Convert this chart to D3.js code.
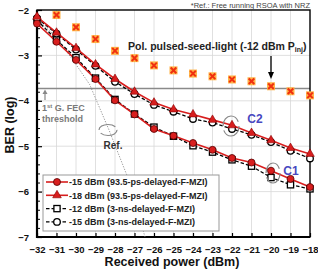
<!DOCTYPE html>
<html><head><meta charset="utf-8">
<script src="https://cdn.jsdelivr.net/npm/d3@7"></script>
<style>body{margin:0;background:#fff}svg{display:block}text{font-family:"Liberation Sans",Arial,sans-serif}</style>
</head><body><svg id="c" width="318" height="270"></svg>
<script>
const xs = [-32,-31,-30,-29,-28,-27,-26,-25,-24,-23,-22,-21,-20,-19,-18];
const xTicks = [-32,-31,-30,-29,-28,-27,-26,-25,-24,-23,-22,-21,-20,-19,-18];
const yTicks = [-7,-6,-5,-4,-3,-2];
const s15fast = [-2.3,-2.7,-3.1,-3.52,-3.99,-4.3,-4.62,-4.77,-4.93,-5.08,-5.26,-5.36,-5.54,-5.72,-5.9];
const s18fast = [-2.15,-2.5,-2.84,-3.2,-3.52,-3.8,-4.04,-4.19,-4.3,-4.42,-4.54,-4.71,-4.87,-5.04,-5.17];
const s12slow = [-2.22,-2.66,-3.05,-3.5,-3.97,-4.29,-4.58,-4.78,-4.99,-5.13,-5.3,-5.44,-5.69,-5.85,-5.94];
const s15slow = [-2.18,-2.52,-2.87,-3.23,-3.58,-3.85,-4.09,-4.24,-4.4,-4.48,-4.62,-4.75,-4.91,-5.1,-5.27];
const pulsedX = [-31,-30,-29,-28,-27,-26,-25,-24,-23,-22,-21,-20,-19,-18];
const pulsedY = [-2.11,-2.38,-2.64,-2.9,-3.06,-3.22,-3.33,-3.4,-3.46,-3.53,-3.57,-3.68,-3.79,-3.88];
const refX = [-32,-31,-30,-29.3,-28.3,-27.4,-26.46];
const refY = [-2.2,-2.6,-3.2,-3.64,-4.65,-5.63,-7];
const fec = -3.73;
const legendLabels = ["-15 dBm (93.5-ps-delayed-F-MZI)","-18 dBm (93.5-ps-delayed-F-MZI)","-12 dBm (3-ns-delayed-F-MZI)","-15 dBm (3-ns-delayed-F-MZI)"];

const svg = d3.select("#c");
const L=37,R=310,T=10,B=237;
const x = d3.scaleLinear().domain([-32,-18]).range([L,R]);
const y = d3.scaleLinear().domain([-7,-2]).range([B,T]);

// grid
svg.append("g").selectAll("line").data(xTicks.slice(1,-1)).join("line")
  .attr("x1",d=>x(d)).attr("x2",d=>x(d)).attr("y1",T).attr("y2",B)
  .attr("stroke","#d8d8d8").attr("stroke-width",0.8);
svg.append("g").selectAll("line").data(yTicks.slice(1,-1)).join("line")
  .attr("x1",L).attr("x2",R).attr("y1",d=>y(d)).attr("y2",d=>y(d))
  .attr("stroke","#d8d8d8").attr("stroke-width",0.8);

// FEC line
svg.append("line").attr("x1",L).attr("x2",R).attr("y1",y(fec)).attr("y2",y(fec))
  .attr("stroke","#8a8a8a").attr("stroke-width",1.5);

// axes
const xAxis = d3.axisBottom(x).tickValues(xTicks).tickSize(-4).tickFormat(d3.format("d"));
const gx = svg.append("g").attr("transform",`translate(0,${B})`).call(xAxis);
gx.select(".domain").remove();
gx.selectAll("line").attr("stroke","#000").attr("stroke-width",1.2);
gx.selectAll("text").attr("dy",null).attr("y",15.5).attr("font-size",9.5).attr("font-weight","bold").attr("fill","#111");

const yAxis = d3.axisLeft(y).tickValues(yTicks).tickSize(-5).tickFormat(d3.format("d"));
const gy = svg.append("g").attr("transform",`translate(${L},0)`).call(yAxis);
gy.select(".domain").remove();
gy.selectAll("line").attr("stroke","#000").attr("stroke-width",1.2);
gy.selectAll("text").attr("x",-8).attr("font-size",9.5).attr("font-weight","bold").attr("fill","#111");
const minor = d3.range(-7,-2,0.2).map(v=>+v.toFixed(1)).filter(v=>!Number.isInteger(v));
const yMinor = d3.axisLeft(y).tickValues(minor).tickSize(-3).tickFormat("");
const gm = svg.append("g").attr("transform",`translate(${L},0)`).call(yMinor);
gm.select(".domain").remove();
gm.selectAll("line").attr("stroke","#000").attr("stroke-width",1);

// frame
svg.append("rect").attr("x",L).attr("y",T).attr("width",R-L).attr("height",B-T)
  .attr("fill","none").attr("stroke","#000").attr("stroke-width",1.4);
svg.append("line").attr("x1",L).attr("x2",L).attr("y1",T).attr("y2",B+1).attr("stroke","#000").attr("stroke-width",2.2);
svg.append("line").attr("x1",L-1).attr("x2",R).attr("y1",B).attr("y2",B).attr("stroke","#000").attr("stroke-width",2.2);

// reference dotted line
const line = d3.line().x(d=>x(d[0])).y(d=>y(d[1]));
svg.append("path").attr("d",line(d3.zip(refX,refY))).attr("fill","none")
  .attr("stroke","#777").attr("stroke-width",0.8).attr("stroke-dasharray","1.2,1.5");

// pulsed-seed markers
const pg = svg.append("g");
d3.zip(pulsedX,pulsedY).forEach(([a,b])=>{
  const cx=x(a), cy=y(b);
  pg.append("rect").attr("x",cx-4).attr("y",cy-4).attr("width",8).attr("height",8).attr("fill","#ffb347");
  pg.append("path").attr("d",`M${cx-2.8},${cy-2.8}L${cx+2.8},${cy+2.8}M${cx+2.8},${cy-2.8}L${cx-2.8},${cy+2.8}`)
    .attr("stroke","#f03010").attr("stroke-width",2);
});

const RED="#d81e1e";
function drawSeries(vals, color, dash, width){
  svg.append("path").attr("d",line(d3.zip(xs,vals))).attr("fill","none")
    .attr("stroke",color).attr("stroke-width",width).attr("stroke-dasharray",dash||null);
}
function marker(g,type,cx,cy){
  if(type==="circle") g.append("circle").attr("cx",cx).attr("cy",cy).attr("r",3.5).attr("fill",RED).attr("stroke","#500").attr("stroke-width",0.8);
  else if(type==="tri") g.append("path").attr("d",d3.symbol(d3.symbolTriangle,32)()).attr("transform",`translate(${cx},${cy})`).attr("fill",RED).attr("stroke","#800").attr("stroke-width",0.6);
  else if(type==="square") g.append("rect").attr("x",cx-3.1).attr("y",cy-3.1).attr("width",6.2).attr("height",6.2).attr("fill","#fff").attr("stroke","#000").attr("stroke-width",1.3);
  else if(type==="ocircle") g.append("circle").attr("cx",cx).attr("cy",cy).attr("r",3.3).attr("fill","#fff").attr("stroke","#000").attr("stroke-width",1.3);
}
const series = [
  {vals:s12slow,color:"#000",dash:"3.5,2",w:1.3,m:"square"},
  {vals:s15slow,color:"#000",dash:"3.5,2",w:1.3,m:"ocircle"},
  {vals:s15fast,color:RED,dash:null,w:1.6,m:"circle"},
  {vals:s18fast,color:RED,dash:null,w:1.6,m:"tri"}
];
series.forEach(s=>drawSeries(s.vals,s.color,s.dash,s.w));
series.forEach(s=>{const g=svg.append("g"); xs.forEach((a,i)=>marker(g,s.m,x(a),y(s.vals[i])));});

// annotations
svg.append("text").attr("x",310).attr("y",8).attr("text-anchor","end").attr("font-size",7.5).attr("fill","#444")
  .text("*Ref.: Free running RSOA with NRZ");
const pt = svg.append("text").attr("x",128).attr("y",50).attr("font-size",10.5).attr("font-weight","bold").attr("fill","#222");
pt.append("tspan").text("Pol. pulsed-seed-light (-12 dBm P");
pt.append("tspan").attr("font-size",7).attr("dy",2).text("inj");
pt.append("tspan").attr("dy",-2).text(")");
// arrow down
svg.append("line").attr("x1",x(-20)).attr("x2",x(-20)).attr("y1",56).attr("y2",73).attr("stroke","#000").attr("stroke-width",1.3);
svg.append("path").attr("d",`M${x(-20)-3},72L${x(-20)+3},72L${x(-20)},79Z`).attr("fill","#000");
// FEC label
svg.append("line").attr("x1",45).attr("x2",45).attr("y1",100).attr("y2",93).attr("stroke","#888").attr("stroke-width",1.2);
svg.append("path").attr("d","M42.5,94L47.5,94L45,89.5Z").attr("fill","#888");
const ft = svg.append("text").attr("x",42).attr("y",111).attr("font-size",9).attr("font-weight","bold").attr("fill","#7a7a7a");
ft.append("tspan").text("1");
ft.append("tspan").attr("font-size",6).attr("dy",-3).text("st");
ft.append("tspan").attr("dy",3).text(" G. FEC");
svg.append("text").attr("x",42).attr("y",122).attr("font-size",9).attr("font-weight","bold").attr("fill","#7a7a7a").text("threshold");

// ovals
function oval(cx,cy,rx,ry){
  svg.append("ellipse").attr("cx",cx).attr("cy",cy).attr("rx",rx).attr("ry",ry)
    .attr("fill","none").attr("stroke","#888").attr("stroke-width",1.2).attr("stroke-dasharray",`${Math.PI*(rx+ry)*0.42},${Math.PI*(rx+ry)*0.08}`);
}
oval(108,130,9,5.5);
svg.append("text").attr("x",113).attr("y",149).attr("text-anchor","middle").attr("font-size",10).attr("font-weight","bold").attr("fill","#333").text("Ref.");
oval(231,126,8,10);
svg.append("text").attr("x",255).attr("y",123).attr("text-anchor","middle").attr("font-size",12).attr("font-weight","bold").attr("fill","#4848c0").text("C2");
oval(273,173,7,10);
svg.append("text").attr("x",291).attr("y",175).attr("text-anchor","middle").attr("font-size",12).attr("font-weight","bold").attr("fill","#4848c0").text("C1");

// legend
const lg = svg.append("g");
lg.append("rect").attr("x",43).attr("y",175).attr("width",176).attr("height",56).attr("fill","#fff").attr("stroke","#999").attr("stroke-width",1);
const legSeries = [series[2],series[3],series[0],series[1]];
legSeries.forEach((s,i)=>{
  const ly = 182+i*13.3;
  lg.append("line").attr("x1",46).attr("x2",68).attr("y1",ly).attr("y2",ly).attr("stroke",s.color).attr("stroke-width",s.w).attr("stroke-dasharray",s.dash||null);
  marker(lg,s.m,57,ly);
  lg.append("text").attr("x",69).attr("y",ly+3.3).attr("font-size",9).attr("font-weight","bold").attr("fill","#222").text(legendLabels[i]);
});

// axis titles
svg.append("text").attr("x",172).attr("y",266).attr("text-anchor","middle").attr("font-size",12.5).attr("font-weight","bold").attr("fill","#111").text("Received power (dBm)");
svg.append("text").attr("transform","translate(14,125) rotate(-90)").attr("text-anchor","middle").attr("font-size",12.5).attr("font-weight","bold").attr("fill","#111").text("BER (log)");
</script></body></html>
